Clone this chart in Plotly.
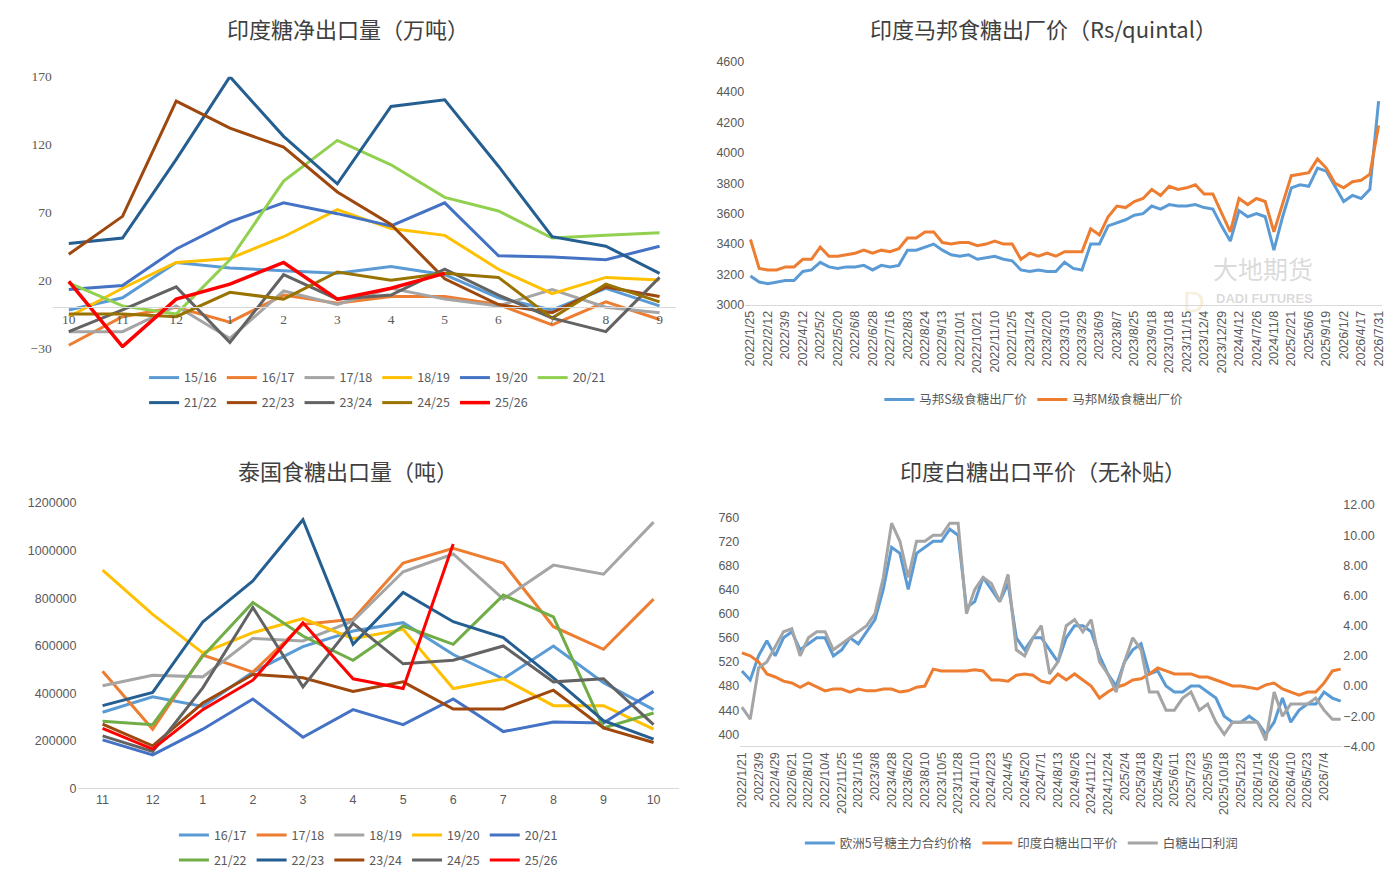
import plotly.graph_objects as go
import numpy as np

# ---------------- Top-left: India net sugar exports ----------------
tl_months = ["10","11","12","1","2","3","4","5","6","7","8","9"]
tl_15_16 = [-2, 7, 33, 29, 27, 25, 30, 24, 7, -2, 14, 1]
tl_16_17 = [-28, -7, 0, -11, 9, 3, 8, 8, 2, -13, 4, -9]
tl_17_18 = [-18, -18, 1, -23, 12, 2, 14, 6, 1, 13, 0, -4]
tl_18_19 = [-7, 14, 33, 36, 52, 72, 58, 53, 28, 10, 22, 20]
tl_19_20 = [13, 16, 43, 63, 77, 69, 60, 77, 38, 37, 35, 45]
tl_20_21 = [18, 1, -5, 35, 93, 123, 105, 81, 71, 51, 53, 55]
tl_21_22 = [47, 51, 109, 170, 126, 91, 148, 153, 104, 52, 45, 25]
tl_22_23 = [39, 67, 152, 132, 118, 85, 61, 21, 2, -4, 15, 8]
tl_23_24 = [-18, -2, 15, -26, 24, 6, 9, 28, 9, -8, -18, 22]
tl_24_25 = [-5, -5, -7, 11, 6, 26, 20, 25, 22, -8, 17, 4]
tl_25_26 = [19, -29, 6, 17, 33, 6, 14, 25]
tl_names = ["15/16","16/17","17/18","18/19","19/20","20/21","21/22","22/23","23/24","24/25","25/26"]
tl_colors = ["#5B9BD5","#ED7D31","#A5A5A5","#FFC000","#4472C4","#92D050","#255E91","#9E480E","#636363","#997300","#FF0000"]
tl_series = [tl_15_16, tl_16_17, tl_17_18, tl_18_19, tl_19_20, tl_20_21, tl_21_22, tl_22_23, tl_23_24, tl_24_25, tl_25_26]

# ---------------- Top-right: Maharashtra ex-mill price ----------------
tr_labels = ["2022/1/25","2022/2/12","2022/3/9","2022/4/12","2022/5/2","2022/5/20","2022/6/8","2022/6/28",
             "2022/7/16","2022/8/3","2022/8/24","2022/9/13","2022/10/1","2022/10/21","2022/11/10","2022/12/5",
             "2023/1/24","2023/2/20","2023/3/10","2023/3/29","2023/6/9","2023/8/7","2023/8/25","2023/9/18",
             "2023/10/18","2023/11/15","2023/12/4","2023/12/29","2024/4/12","2024/7/26","2024/11/8","2025/2/21",
             "2025/6/6","2025/9/19","2026/1/2","2026/4/17","2026/7/31"]
tr_m = [3430,3240, 3230,3230, 3250,3250, 3300,3300, 3380,3320, 3320,3330, 3340,3360, 3340,3360,
        3350,3370, 3440,3440, 3480,3480, 3410,3400, 3410,3410, 3390,3400, 3420,3400, 3400,3300,
        3340,3320, 3340,3320, 3350,3350, 3350,3500, 3460,3580, 3650,3640, 3680,3700, 3760,3720,
        3780,3760, 3770,3790, 3730,3730, 3600,3480, 3700,3660, 3700,3680, 3480,3660, 3850,3860,
        3870,3960, 3900,3800, 3770,3810, 3820,3860, 4180]
tr_s = [3190,3150, 3140,3150, 3160,3160, 3220,3230, 3280,3250, 3240,3250, 3250,3260, 3230,3260,
        3250,3260, 3360,3360, 3380,3400, 3360,3330, 3320,3330, 3300,3310, 3320,3300, 3290,3230,
        3220,3230, 3220,3220, 3280,3240, 3230,3400, 3400,3520, 3540,3560, 3590,3600, 3650,3630,
        3660,3650, 3650,3660, 3640,3630, 3520,3420, 3620,3580, 3600,3580, 3360,3580, 3770,3790,
        3780,3900, 3880,3780, 3680,3720, 3700,3760, 4340]

# ---------------- Bottom-left: Thailand sugar exports ----------------
bl_months = ["11","12","1","2","3","4","5","6","7","8","9","10"]
bl_16_17 = [320000,385000,345000,489000,596000,662000,697000,563000,461000,599000,444000,331000]
bl_17_18 = [493000,249000,561000,489000,690000,711000,948000,1010000,948000,680000,585000,796000]
bl_18_19 = [432000,476000,469000,631000,620000,704000,911000,986000,796000,939000,901000,1120000]
bl_19_20 = [918000,732000,570000,655000,714000,630000,669000,420000,461000,348000,348000,249000]
bl_20_21 = [204000,141000,249000,376000,215000,331000,268000,376000,239000,279000,275000,408000]
bl_21_22 = [282000,268000,556000,782000,641000,539000,683000,606000,813000,721000,254000,317000]
bl_22_23 = [348000,404000,700000,873000,1130000,606000,824000,701000,634000,465000,285000,207000]
bl_23_24 = [270000,179000,359000,479000,465000,408000,448000,334000,334000,413000,254000,193000]
bl_24_25 = [221000,155000,423000,761000,427000,694000,524000,539000,599000,448000,461000,268000]
bl_25_26 = [252000,165000,331000,455000,697000,461000,420000,1028000]
bl_names = ["16/17","17/18","18/19","19/20","20/21","21/22","22/23","23/24","24/25","25/26"]
bl_colors = ["#5B9BD5","#ED7D31","#A5A5A5","#FFC000","#4472C4","#70AD47","#255E91","#9E480E","#636363","#FF0000"]
bl_series = [bl_16_17, bl_17_18, bl_18_19, bl_19_20, bl_20_21, bl_21_22, bl_22_23, bl_23_24, bl_24_25, bl_25_26]

# ---------------- Bottom-right: India white sugar export price ----------------
br_labels = ["2022/1/21","2022/3/9","2022/4/29","2022/6/21","2022/8/10","2022/10/4","2022/11/25","2023/1/16",
             "2023/3/8","2023/4/28","2023/6/20","2023/8/10","2023/10/5","2023/11/28","2024/1/10","2024/2/23",
             "2024/4/5","2024/5/20","2024/7/1","2024/8/13","2024/9/26","2024/11/12","2024/12/24","2025/2/4",
             "2025/3/18","2025/4/29","2025/6/11","2025/7/23","2025/9/5","2025/10/18","2025/12/3","2026/1/14",
             "2026/2/26","2026/4/10","2026/5/23","2026/7/4"]
br_euro = [505,490, 530,555, 530,560, 570,540, 550,560, 560,530, 540,560, 550,570,
           590,640, 710,700, 640,700, 710,720, 720,740, 730,610, 620,660, 640,620,
           650,560, 540,560, 560,540, 520,560, 580,580, 570,530, 500,480, 520,540,
           550,500, 505,480, 470,470, 480,480, 470,460, 430,420, 420,430, 420,400,
           420,460, 420,440, 450,450, 470,460, 455]
br_india = [535,530, 520,500, 495,488, 485,478, 485,478, 472,475, 475,470, 475,472,
            472,475, 475,470, 472,478, 480,508, 505,505, 505,505, 507,505, 490,490,
            488,498, 500,498, 488,485, 500,490, 500,490, 480,460, 470,478, 482,490,
            492,500, 510,505, 500,500, 500,495, 495,490, 485,480, 480,478, 475,482,
            485,475, 470,465, 470,470, 485,505, 508]
br_profit = [-1.4,-2.2, 1.2,1.6, 2.6,3.6, 3.8,2.0, 3.2,3.6, 3.6,2.4, 2.8,3.2, 3.6,4.0,
             4.8,7.2, 10.8,9.6, 7.2,9.6, 9.6,10.0, 10.0,10.8, 10.8,4.8, 6.4,7.2, 6.8,5.6,
             7.4,2.4, 2.0,3.2, 4.0,0.8, 1.6,4.0, 4.4,3.6, 4.4,1.6, 0.8,-0.4, 1.6,3.2,
             2.4,-0.4, -0.4,-1.6, -1.6,-0.8, -0.4,-1.6, -1.2,-2.4, -3.2,-2.4, -2.4,-2.4,
             -2.4,-3.6, -0.4,-2.0, -1.2,-1.2, -1.2,-0.8, -1.6,-2.2, -2.2]

FONT = "Noto Sans CJK SC"
TICKC = "#595959"
fig = go.Figure()

def Y(y):  # target screen y -> layout y (compensates rendering offset)
    return (y - 7.4) / 0.982

def py(y):
    return 1 - Y(y) / 881

def px_x(a, b):
    return [a / 1400, b / 1400]

def px_y(top, bottom):
    return [py(bottom), py(top)]

for i, (nm, col, s) in enumerate(zip(tl_names, tl_colors, tl_series)):
    fig.add_trace(go.Scatter(x=tl_months[:len(s)], y=s, name=nm, mode="lines",
                             line=dict(color=col, width=3.5 if nm == "25/26" else 3),
                             xaxis="x", yaxis="y", legend="legend" if i < 6 else "legend2"))
tr_x = np.arange(len(tr_s)) / 2
fig.add_trace(go.Scatter(x=tr_x, y=tr_s, name="马邦S级食糖出厂价", mode="lines", line=dict(color="#5B9BD5", width=3),
                         xaxis="x2", yaxis="y2", legend="legend3"))
fig.add_trace(go.Scatter(x=tr_x, y=tr_m, name="马邦M级食糖出厂价", mode="lines", line=dict(color="#ED7D31", width=3),
                         xaxis="x2", yaxis="y2", legend="legend3"))
for i, (nm, col, s) in enumerate(zip(bl_names, bl_colors, bl_series)):
    fig.add_trace(go.Scatter(x=bl_months[:len(s)], y=s, name=nm, mode="lines",
                             line=dict(color=col, width=3),
                             xaxis="x3", yaxis="y3", legend="legend4" if i < 5 else "legend5"))
br_x = np.arange(len(br_euro)) / 2
fig.add_trace(go.Scatter(x=br_x, y=br_euro, name="欧洲5号糖主力合约价格", mode="lines", line=dict(color="#5B9BD5", width=3),
                         xaxis="x4", yaxis="y4", legend="legend6"))
fig.add_trace(go.Scatter(x=br_x, y=br_india, name="印度白糖出口平价", mode="lines", line=dict(color="#ED7D31", width=3),
                         xaxis="x4", yaxis="y4", legend="legend6"))
fig.add_trace(go.Scatter(x=br_x, y=br_profit, name="白糖出口利润", mode="lines", line=dict(color="#A5A5A5", width=3),
                         xaxis="x4", yaxis="y5", legend="legend6"))

tickfont = dict(family="Liberation Sans", size=12.5, color=TICKC)
leg = lambda x, y: dict(orientation="h", x=x / 1400, y=py(y), xanchor="left", yanchor="middle",
                        font=dict(family=FONT, size=12.5, color=TICKC), bgcolor="rgba(0,0,0,0)",
                        itemwidth=30, tracegroupgap=0)

fig.update_layout(
    width=1400, height=881, margin=dict(l=0, r=0, t=0, b=0),
    paper_bgcolor="white", plot_bgcolor="white", showlegend=True,
    font=dict(family=FONT),
    xaxis=dict(domain=px_x(48, 675), type="category", anchor="free", position=py(307),
               showline=True, linecolor="#D9D9D9", ticks="", tickfont=dict(family="Liberation Serif", size=13.5, color=TICKC),
               showgrid=False, range=[-0.3, 11.3]),
    yaxis=dict(domain=px_y(77, 348), range=[-30, 170], tickvals=[-30, 20, 70, 120, 170], showgrid=False,
               zeroline=False, tickfont=dict(family="Liberation Serif", size=13.5, color=TICKC), anchor="x"),
    xaxis2=dict(domain=px_x(745, 1386), tickvals=list(range(len(tr_labels))), ticktext=tr_labels, tickangle=-90,
                range=[-0.3, 36.2], showline=True, linecolor="#D9D9D9", showgrid=False, tickfont=tickfont, anchor="y2"),
    yaxis2=dict(domain=px_y(62, 305), range=[3000, 4600], dtick=200, showgrid=False, tickfont=tickfont, anchor="x2"),
    xaxis3=dict(domain=px_x(73, 678), type="category", showline=True, linecolor="#D9D9D9", showgrid=False,
                tickfont=tickfont, anchor="y3", range=[-0.5, 11.5]),
    yaxis3=dict(domain=px_y(503, 788), range=[0, 1200000], dtick=200000, showgrid=False, tickformat="d",
                tickfont=tickfont, anchor="x3"),
    xaxis4=dict(domain=px_x(740, 1346), tickvals=list(range(len(br_labels))), ticktext=br_labels, tickangle=-90,
                range=[-0.1, 36.1], showline=True, linecolor="#D9D9D9", showgrid=False, tickfont=tickfont, anchor="y4"),
    yaxis4=dict(domain=px_y(505, 746), range=[380, 780], dtick=40, showgrid=False, tickfont=tickfont, anchor="x4"),
    yaxis5=dict(overlaying="y4", side="right", range=[-4, 12], dtick=2, tickformat=".2f", showgrid=False,
                tickfont=tickfont, anchor="x4"),
    legend=leg(140, 378), legend2=leg(140, 403),
    legend3=leg(880, 400),
    legend4=leg(170, 835), legend5=leg(170, 860),
    legend6=leg(800, 843),
)

titles = [("印度糖净出口量（万吨）", 345, 28), ("印度马邦食糖出厂价（Rs/quintal）", 1045, 28),
          ("泰国食糖出口量（吨）", 345, 470), ("印度白糖出口平价（无补贴）", 1045, 470)]
for t, x, y in titles:
    fig.add_annotation(text=t, x=x / 1400, y=py(y), xref="paper", yref="paper", showarrow=False,
                       font=dict(family=FONT, size=22, color="#404040"), xanchor="center", yanchor="middle")
fig.add_annotation(text="大地期货", x=1318 / 1400, y=py(268), xref="paper", yref="paper", showarrow=False,
                   yanchor="middle", font=dict(family=FONT, size=25, color="rgba(150,150,150,0.35)"))
fig.add_annotation(text="<b>DADI FUTURES</b>", x=1318 / 1400, y=py(299), xref="paper", yref="paper", showarrow=False,
                   yanchor="middle", font=dict(family="Liberation Sans", size=13, color="rgba(150,150,150,0.35)"))
fig.add_annotation(text="D", x=1210 / 1400, y=py(283), xref="paper", yref="paper", showarrow=False,
                   font=dict(family="Liberation Sans", size=30, color="rgba(230,200,120,0.3)"))

fig.write_html("out.html", config={"displayModeBar": False},
               post_script="document.body.style.margin='0';document.body.style.overflow='hidden';")
